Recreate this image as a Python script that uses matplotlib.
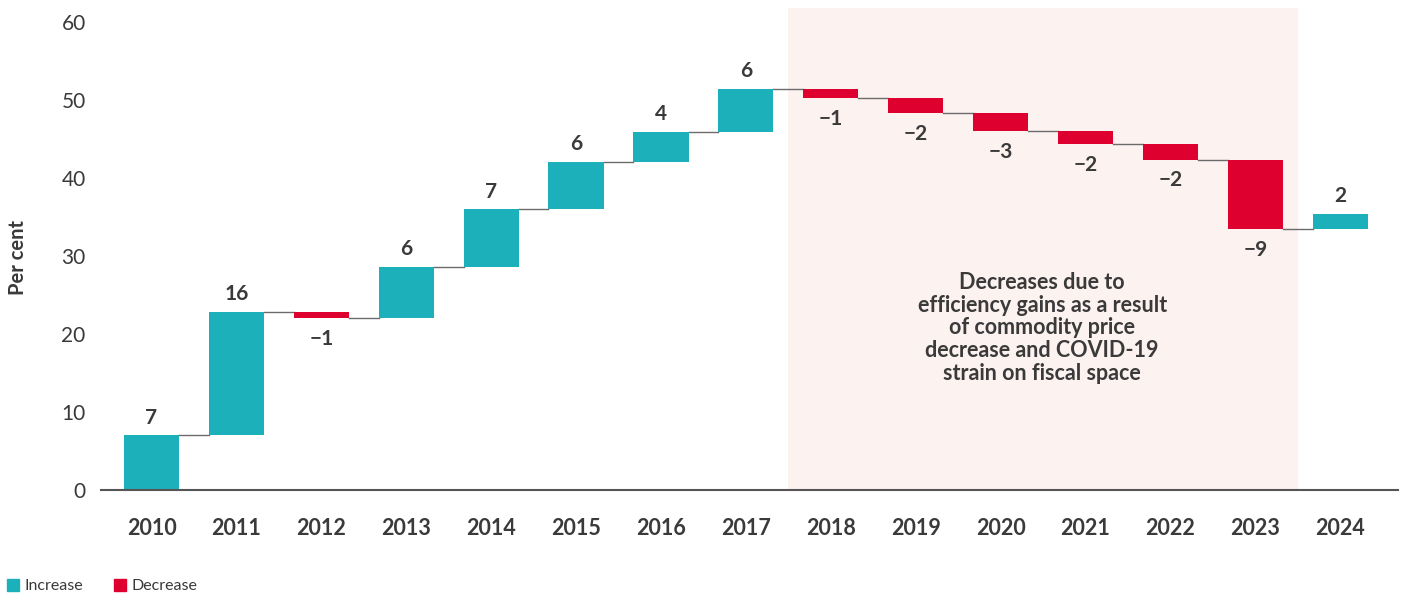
import matplotlib.pyplot as plt
import numpy as np
from matplotlib.patches import Patch

plt.rcParams['font.family'] = ['Lato', 'DejaVu Sans']

# data
years = ['2010', '2011', '2012', '2013', '2014', '2015', '2016', '2017',
         '2018', '2019', '2020', '2021', '2022', '2023', '2024']
changes = [7.0, 15.8, -0.7, 6.5, 7.4, 6.1, 3.8, 5.6,
           -1.2, -1.9, -2.4, -1.6, -2.0, -8.9, 1.9]
labels = ['7', '16', '\u22121', '6', '7', '6', '4', '6',
          '\u22121', '\u22122', '\u22123', '\u22122', '\u22122', '\u22129', '2']
note = ('Decreases due to\nefficiency gains as a result\nof commodity price\n'
        'decrease and COVID-19\nstrain on fiscal space')

teal = '#1CB1BA'
red = '#DE002E'
txt = '#3a3a3a'

changes = np.array(changes)
ends = np.cumsum(changes)
starts = ends - changes
x = np.arange(len(years))
w = 0.65

fig = plt.figure(figsize=(14.05, 5.93), dpi=100)
ax = fig.add_axes([0.0719, 0.1737, 0.9231, 0.8123])

ax.axvspan(7.5, 13.5, color='#FCF2F0', zorder=0, lw=0)

colors = [teal if c > 0 else red for c in changes]
ax.bar(x, changes, bottom=starts, width=w, color=colors, zorder=2)

# connectors between bars
for i in range(len(x) - 1):
    ax.plot([x[i] + w / 2, x[i + 1] - w / 2], [ends[i], ends[i]],
            color='#6b6b6b', lw=1.0, zorder=1)

# value labels
for i, c in enumerate(changes):
    if c > 0:
        ax.text(x[i], ends[i] + 1.0, labels[i], ha='center', va='bottom',
                fontsize=15, fontweight='bold', color=txt)
    else:
        ax.text(x[i], ends[i] - 1.4, labels[i], ha='center', va='top',
                fontsize=15, fontweight='bold', color=txt)

ax.text(10.49, 20.8, note, ha='center', va='center', fontsize=15.5,
        fontweight='bold', color=txt, linespacing=1.1)

ax.set_xlim(-0.595, 14.68)
ax.set_ylim(0, 61.8)
ax.set_yticks(range(0, 61, 10))
ax.set_xticks(x)
ax.set_xticklabels(years, fontweight='bold')
ax.tick_params(axis='y', length=0, pad=11, labelsize=15, labelcolor=txt)
ax.tick_params(axis='x', length=0, pad=20, labelsize=15.5, labelcolor=txt)
for s in ['top', 'right', 'left']:
    ax.spines[s].set_visible(False)
ax.spines['bottom'].set_color('#555555')
ax.spines['bottom'].set_linewidth(1.5)
ax.spines['bottom'].set_zorder(3)

fig.text(0.013, 0.565, 'Per cent', rotation=90, ha='center', va='center',
         fontsize=14.5, fontweight='bold', color=txt)

handles = [Patch(color=teal, label='Increase'), Patch(color=red, label='Decrease')]
fig.legend(handles=handles, loc='lower left', bbox_to_anchor=(-0.005, -0.025),
           ncol=2, frameon=False, fontsize=11.5, handlelength=0.75,
           handleheight=0.75, handletextpad=0.35, columnspacing=1.9,
           labelcolor=txt)

fig.savefig('out.png', dpi=100)
